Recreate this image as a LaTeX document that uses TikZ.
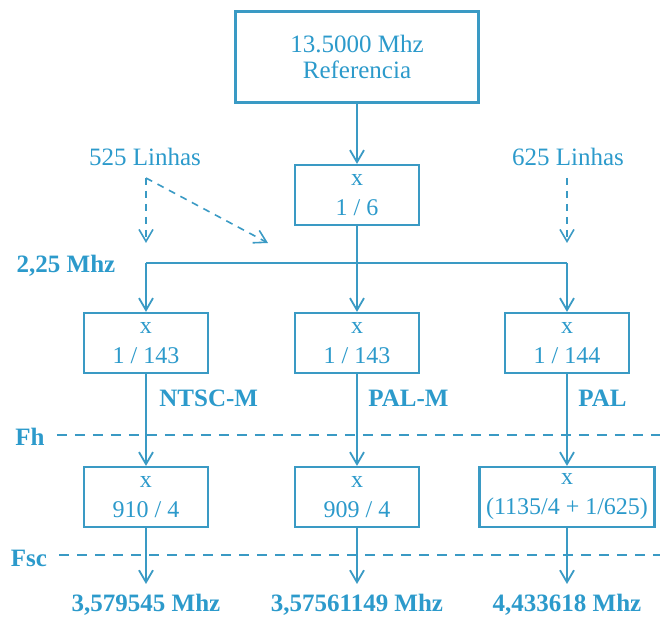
\documentclass[tikz,border=0pt]{standalone}
\usepackage{fontspec}
\setmainfont{Liberation Serif}
\usetikzlibrary{arrows.meta,positioning,calc}
\definecolor{wire}{HTML}{3A9AC4}
\definecolor{ink}{HTML}{2C9ACB}
\tikzset{
  box/.style={
    draw=wire, line width=1.1pt, fill=white, inner sep=0pt,
    minimum width=62pt, minimum height=30pt,
    align=center, font=\fontsize{12}{15}\selectfont, text=ink},
  fl/.style={-{Straight Barb[length=6pt,width=7pt]}, draw=wire, line width=0.9pt},
  dfl/.style={fl, dash pattern=on 3.5pt off 3pt, line width=0.8pt},
  ln/.style={draw=wire, line width=0.9pt},
  rail/.style={draw=wire, line width=0.8pt, dash pattern=on 5pt off 4pt},
  lbl/.style={font=\fontsize{12.5}{15}\selectfont\bfseries, text=ink, inner sep=1pt},
  note/.style={font=\fontsize{12.5}{15}\selectfont, text=ink, inner sep=1pt},
}

\begin{document}
\begin{tikzpicture}[x=0.5pt, y=-0.5pt]
\useasboundingbox (0,0) rectangle (660,620);

% reference and first divider
\node[box, minimum width=121.5pt, minimum height=45.5pt, font=\fontsize{12.5}{13}\selectfont]
  (ref) at (357,57) {13.5000 Mhz\\Referencia};
\node[box] (div6) at (357,195) {x\\1 / 6};
\draw[fl] (ref) -- (div6);

% split to the three systems
\coordinate (split) at (357,263);
\coordinate (bl) at (146,263);
\coordinate (br) at (567,263);
\draw[ln] (div6) -- (split);
\draw[ln] (bl) -- (br);
\node[lbl] (f225) at (66,266) {2,25 Mhz};

\node[box] (ntsc) at (146,343) {x\\1 / 143};
\node[box] (palm) at (357,343) {x\\1 / 143};
\node[box] (pal)  at (567,343) {x\\1 / 144};

\foreach \n/\c in {ntsc/bl, palm/split, pal/br}
  \draw[fl] (\c) -- (\n);

\node[lbl, anchor=west] (lntsc) at (157,398) {NTSC-M};
\node[lbl, anchor=west] (lpalm) at (366,398) {PAL-M};
\node[lbl, anchor=west] (lpal)  at (576,398) {PAL};

% line counts
\node[note] (l525) at (145,157) {525 Linhas};
\node[note] (l625) at (568,157) {625 Linhas};
\coordinate (apex) at (146,178);
\coordinate (t525a) at (146,243);
\coordinate (t525b) at (268,243);
\coordinate (a625) at (567,178);
\coordinate (t625) at (567,243);
\draw[dfl] (apex) -- (t525a);
\draw[dfl] (apex) -- (t525b);
\draw[dfl] (a625) -- (t625);

% subcarrier multipliers
\node[box] (scn)  at (146,497) {x\\910 / 4};
\node[box] (scpm) at (357,497) {x\\909 / 4};
\node[box, minimum width=87.5pt] (scp) at (567,497) {x\\(1135/4 + 1/625)};

\foreach \a/\b in {ntsc/scn, palm/scpm, pal/scp}
  \draw[fl] (\a) -- (\b);

% outputs
\node[lbl] (on)  at (146,605) {3,579545 Mhz};
\node[lbl] (opm) at (357,605) {3,57561149 Mhz};
\node[lbl] (op)  at (567,605) {4,433618 Mhz};

\foreach \a/\b in {scn/on, scpm/opm, scp/op}
  \draw[fl, shorten >=4pt] (\a) -- (\a |- \b.north);

% Fh and Fsc levels
\node[lbl] (fh)  at (30,437) {Fh};
\node[lbl] (fsc) at (29,558) {Fsc};
\coordinate (fhend) at (660,435);
\coordinate (fscend) at (660,555);
\draw[rail] ($(fh.east)+(10,-2)$) -- (fhend);
\draw[rail] ($(fsc.east)+(10,-3)$) -- (fscend);

\end{tikzpicture}
\end{document}
